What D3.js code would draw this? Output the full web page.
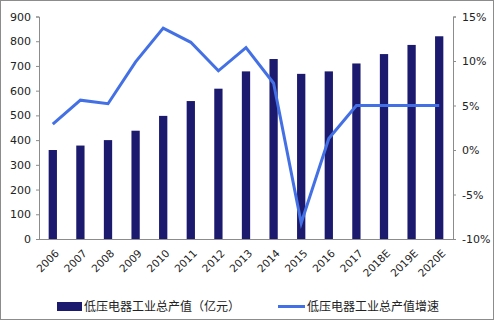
<!DOCTYPE html>
<html><head><meta charset="utf-8">
<script src="https://cdn.jsdelivr.net/npm/d3@7"></script>
<style>body{margin:0;background:#fff}svg{display:block}</style>
</head><body>
<script>
const categories = ["2006","2007","2008","2009","2010","2011","2012","2013","2014","2015","2016","2017","2018E","2019E","2020E"];
const outputValues = [360,378,400,438,498,558,608,678,728,668,678,710,748,785,820];
const growthRates = [2.9,5.6,5.2,9.9,13.7,12.1,8.9,11.5,7.5,-8.2,1.3,5.0,5.0,5.0,5.0];
const leftTicks = [0,100,200,300,400,500,600,700,800,900];
const rightTicks = [-10,-5,0,5,10,15];
const seriesNames = ["低压电器工业总产值（亿元）","低压电器工业总产值增速"];

const W=495,H=322;
const svg=d3.select("body").append("svg").attr("width",W).attr("height",H);
svg.append("rect").attr("x",0.5).attr("y",0.5).attr("width",493).attr("height",319)
  .attr("fill","#fff").attr("stroke","#8c8c8c");

const L=39,R=453,T=16.5,B=239;
const x=d3.scaleBand().domain(categories).range([L,R]).paddingInner(0.7).paddingOuter(0.35);
const y=d3.scaleLinear().domain([0,900]).range([B,T]);
const y2=d3.scaleLinear().domain([-10,15]).range([B,T]);
const barColor="#1b1a6f", lineColor="#4470e6", axisColor="#8c8c8c";
const font="'DejaVu Sans', Verdana, sans-serif";

svg.append("g").selectAll("rect").data(categories).join("rect")
  .attr("x",d=>x(d)).attr("width",x.bandwidth())
  .attr("y",(d,i)=>y(outputValues[i])).attr("height",(d,i)=>B-y(outputValues[i]))
  .attr("fill",barColor);

const line=d3.line().x((d,i)=>x(categories[i])+x.bandwidth()/2).y(d=>y2(d));
svg.append("path").datum(growthRates).attr("d",line).attr("fill","none")
  .attr("stroke",lineColor).attr("stroke-width",3).attr("stroke-linejoin","miter");

const ga=svg.append("g").attr("transform",`translate(${L},0)`)
  .call(d3.axisLeft(y).tickValues(leftTicks).tickSize(3).tickPadding(5));
const gb=svg.append("g").attr("transform",`translate(${R},0)`)
  .call(d3.axisRight(y2).tickValues(rightTicks).tickSize(3).tickPadding(6).tickFormat(d=>d+"%"));
const gx=svg.append("g").attr("transform",`translate(0,${B})`)
  .call(d3.axisBottom(x).tickSize(0).tickPadding(0));
gx.select(".domain").attr("d",`M${L},0.5H${R}`);
[ga,gb,gx].forEach(g=>{
  g.selectAll(".domain,line").attr("stroke",axisColor);
  g.selectAll("text").attr("font-family",font).attr("font-size",11).attr("fill","#222");
});
gx.selectAll("text").attr("font-size",10.5).attr("text-anchor","end")
  .attr("dy",0).attr("y",0)
  .attr("transform","translate(7,15) rotate(-45)");

const lg=svg.append("g");
lg.append("rect").attr("x",57).attr("y",302).attr("width",25).attr("height",9).attr("fill",barColor);
lg.append("text").attr("x",84).attr("y",311).text(seriesNames[0]);
lg.append("line").attr("x1",278).attr("x2",305).attr("y1",306.5).attr("y2",306.5)
  .attr("stroke",lineColor).attr("stroke-width",3);
lg.append("text").attr("x",307).attr("y",311).text(seriesNames[1]);
lg.selectAll("text").attr("font-family","'Noto Sans CJK SC', sans-serif").attr("font-size",12).attr("fill","#222");
</script>
</body></html>
